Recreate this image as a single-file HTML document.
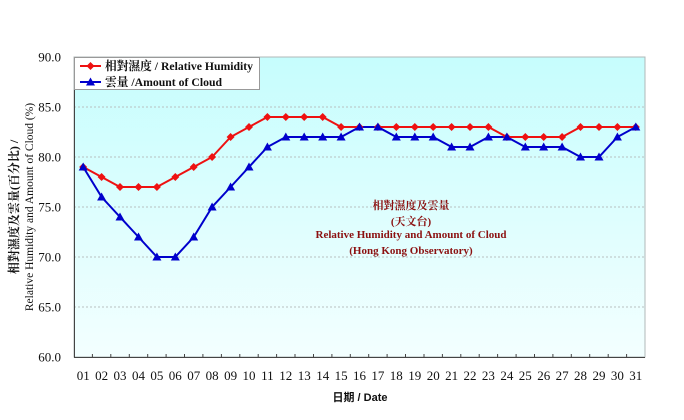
<!DOCTYPE html>
<html><head><meta charset="utf-8"><style>
html,body{margin:0;padding:0;background:#fff;}
svg{display:block;}
</style></head><body>
<svg width="684" height="420" viewBox="0 0 684 420" xmlns="http://www.w3.org/2000/svg">
<defs>
<linearGradient id="bg" x1="0" y1="0" x2="0" y2="1">
<stop offset="0" stop-color="#c6fdfd"/>
<stop offset="1" stop-color="#f3ffff"/>
</linearGradient>
<path id="dm" d="M0,-4 L4,0 L0,4 L-4,0Z" fill="#ee1111"/>
<path id="tr" d="M0,-4.5 L4.5,3.5 L-4.5,3.5Z" fill="#0000cc"/>
</defs>
<rect x="74" y="57" width="571" height="300" fill="url(#bg)" stroke="#b0b8b8" stroke-width="1"/>
<g stroke="#b8c0c0" stroke-width="1" stroke-dasharray="2,2">
<line x1="74" y1="107" x2="645" y2="107"/>
<line x1="74" y1="157" x2="645" y2="157"/>
<line x1="74" y1="207" x2="645" y2="207"/>
<line x1="74" y1="257" x2="645" y2="257"/>
<line x1="74" y1="307" x2="645" y2="307"/>
</g>
<line x1="74.5" y1="57" x2="74.5" y2="357" stroke="#444" stroke-width="1"/>
<line x1="74" y1="357.5" x2="645" y2="357.5" stroke="#444" stroke-width="1"/>
<g stroke="#444" stroke-width="1">
<line x1="92.4" y1="354" x2="92.4" y2="357"/><line x1="110.8" y1="354" x2="110.8" y2="357"/><line x1="129.3" y1="354" x2="129.3" y2="357"/><line x1="147.7" y1="354" x2="147.7" y2="357"/><line x1="166.1" y1="354" x2="166.1" y2="357"/><line x1="184.5" y1="354" x2="184.5" y2="357"/><line x1="202.9" y1="354" x2="202.9" y2="357"/><line x1="221.4" y1="354" x2="221.4" y2="357"/><line x1="239.8" y1="354" x2="239.8" y2="357"/><line x1="258.2" y1="354" x2="258.2" y2="357"/><line x1="276.6" y1="354" x2="276.6" y2="357"/><line x1="295.0" y1="354" x2="295.0" y2="357"/><line x1="313.5" y1="354" x2="313.5" y2="357"/><line x1="331.9" y1="354" x2="331.9" y2="357"/><line x1="350.3" y1="354" x2="350.3" y2="357"/><line x1="368.7" y1="354" x2="368.7" y2="357"/><line x1="387.1" y1="354" x2="387.1" y2="357"/><line x1="405.5" y1="354" x2="405.5" y2="357"/><line x1="424.0" y1="354" x2="424.0" y2="357"/><line x1="442.4" y1="354" x2="442.4" y2="357"/><line x1="460.8" y1="354" x2="460.8" y2="357"/><line x1="479.2" y1="354" x2="479.2" y2="357"/><line x1="497.6" y1="354" x2="497.6" y2="357"/><line x1="516.1" y1="354" x2="516.1" y2="357"/><line x1="534.5" y1="354" x2="534.5" y2="357"/><line x1="552.9" y1="354" x2="552.9" y2="357"/><line x1="571.3" y1="354" x2="571.3" y2="357"/><line x1="589.7" y1="354" x2="589.7" y2="357"/><line x1="608.2" y1="354" x2="608.2" y2="357"/><line x1="626.6" y1="354" x2="626.6" y2="357"/>
</g>
<g font-family="'Liberation Serif',serif" font-size="13" fill="#111" text-anchor="end">
<text x="61" y="61.5">90.0</text>
<text x="61" y="111.5">85.0</text>
<text x="61" y="161.5">80.0</text>
<text x="61" y="211.5">75.0</text>
<text x="61" y="261.5">70.0</text>
<text x="61" y="311.5">65.0</text>
<text x="61" y="361.5">60.0</text>
</g>
<g font-family="'Liberation Serif',serif" font-size="13" fill="#111" text-anchor="middle">
<text x="83.2" y="380">01</text><text x="101.6" y="380">02</text><text x="120.0" y="380">03</text><text x="138.5" y="380">04</text><text x="156.9" y="380">05</text><text x="175.3" y="380">06</text><text x="193.7" y="380">07</text><text x="212.1" y="380">08</text><text x="230.6" y="380">09</text><text x="249.0" y="380">10</text><text x="267.4" y="380">11</text><text x="285.8" y="380">12</text><text x="304.2" y="380">13</text><text x="322.7" y="380">14</text><text x="341.1" y="380">15</text><text x="359.5" y="380">16</text><text x="377.9" y="380">17</text><text x="396.3" y="380">18</text><text x="414.8" y="380">19</text><text x="433.2" y="380">20</text><text x="451.6" y="380">21</text><text x="470.0" y="380">22</text><text x="488.4" y="380">23</text><text x="506.9" y="380">24</text><text x="525.3" y="380">25</text><text x="543.7" y="380">26</text><text x="562.1" y="380">27</text><text x="580.5" y="380">28</text><text x="599.0" y="380">29</text><text x="617.4" y="380">30</text><text x="635.8" y="380">31</text>
</g>
<text x="360" y="401" text-anchor="middle" font-family="'Liberation Sans','Noto Sans CJK TC',sans-serif" font-size="11" font-weight="bold" fill="#111">日期 / Date</text>
<g font-family="'Liberation Serif','Noto Serif CJK SC','Noto Sans CJK TC',serif" fill="#111" text-anchor="middle">
<text transform="translate(18,207) rotate(-90)" font-size="12" font-weight="bold">相對濕度及雲量(百分比) /</text>
<text transform="translate(33,207) rotate(-90)" font-size="11.5">Relative Humidity and Amount of Cloud (%)</text>
</g>
<g font-family="'Liberation Serif','Noto Serif CJK SC','Noto Sans CJK TC',serif" font-size="11" font-weight="bold" fill="#8b1010" text-anchor="middle">
<text x="411" y="209">相對濕度及雲量</text>
<text x="411" y="225">(天文台)</text>
<text x="411" y="238">Relative Humidity and Amount of Cloud</text>
<text x="411" y="254">(Hong Kong Observatory)</text>
</g>
<polyline fill="none" stroke="#ee1111" stroke-width="2" points="83.2,167 101.6,177 120.0,187 138.5,187 156.9,187 175.3,177 193.7,167 212.1,157 230.6,137 249.0,127 267.4,117 285.8,117 304.2,117 322.7,117 341.1,127 359.5,127 377.9,127 396.3,127 414.8,127 433.2,127 451.6,127 470.0,127 488.4,127 506.9,137 525.3,137 543.7,137 562.1,137 580.5,127 599.0,127 617.4,127 635.8,127"/>
<polyline fill="none" stroke="#0000cc" stroke-width="2" points="83.2,167 101.6,197 120.0,217 138.5,237 156.9,257 175.3,257 193.7,237 212.1,207 230.6,187 249.0,167 267.4,147 285.8,137 304.2,137 322.7,137 341.1,137 359.5,127 377.9,127 396.3,137 414.8,137 433.2,137 451.6,147 470.0,147 488.4,137 506.9,137 525.3,147 543.7,147 562.1,147 580.5,157 599.0,157 617.4,137 635.8,127"/>
<g>
<use href="#dm" x="83.2" y="167"/><use href="#dm" x="101.6" y="177"/><use href="#dm" x="120.0" y="187"/><use href="#dm" x="138.5" y="187"/><use href="#dm" x="156.9" y="187"/><use href="#dm" x="175.3" y="177"/><use href="#dm" x="193.7" y="167"/><use href="#dm" x="212.1" y="157"/><use href="#dm" x="230.6" y="137"/><use href="#dm" x="249.0" y="127"/><use href="#dm" x="267.4" y="117"/><use href="#dm" x="285.8" y="117"/><use href="#dm" x="304.2" y="117"/><use href="#dm" x="322.7" y="117"/><use href="#dm" x="341.1" y="127"/><use href="#dm" x="359.5" y="127"/><use href="#dm" x="377.9" y="127"/><use href="#dm" x="396.3" y="127"/><use href="#dm" x="414.8" y="127"/><use href="#dm" x="433.2" y="127"/><use href="#dm" x="451.6" y="127"/><use href="#dm" x="470.0" y="127"/><use href="#dm" x="488.4" y="127"/><use href="#dm" x="506.9" y="137"/><use href="#dm" x="525.3" y="137"/><use href="#dm" x="543.7" y="137"/><use href="#dm" x="562.1" y="137"/><use href="#dm" x="580.5" y="127"/><use href="#dm" x="599.0" y="127"/><use href="#dm" x="617.4" y="127"/><use href="#dm" x="635.8" y="127"/>
</g>
<g>
<use href="#tr" x="83.2" y="167"/><use href="#tr" x="101.6" y="197"/><use href="#tr" x="120.0" y="217"/><use href="#tr" x="138.5" y="237"/><use href="#tr" x="156.9" y="257"/><use href="#tr" x="175.3" y="257"/><use href="#tr" x="193.7" y="237"/><use href="#tr" x="212.1" y="207"/><use href="#tr" x="230.6" y="187"/><use href="#tr" x="249.0" y="167"/><use href="#tr" x="267.4" y="147"/><use href="#tr" x="285.8" y="137"/><use href="#tr" x="304.2" y="137"/><use href="#tr" x="322.7" y="137"/><use href="#tr" x="341.1" y="137"/><use href="#tr" x="359.5" y="127"/><use href="#tr" x="377.9" y="127"/><use href="#tr" x="396.3" y="137"/><use href="#tr" x="414.8" y="137"/><use href="#tr" x="433.2" y="137"/><use href="#tr" x="451.6" y="147"/><use href="#tr" x="470.0" y="147"/><use href="#tr" x="488.4" y="137"/><use href="#tr" x="506.9" y="137"/><use href="#tr" x="525.3" y="147"/><use href="#tr" x="543.7" y="147"/><use href="#tr" x="562.1" y="147"/><use href="#tr" x="580.5" y="157"/><use href="#tr" x="599.0" y="157"/><use href="#tr" x="617.4" y="137"/><use href="#tr" x="635.8" y="127"/>
</g>
<rect x="74.5" y="57.5" width="185" height="32" fill="#fff" stroke="#999" stroke-width="1"/>
<line x1="80" y1="66" x2="101" y2="66" stroke="#ee1111" stroke-width="2"/>
<use href="#dm" x="90.5" y="66"/>
<line x1="80" y1="82" x2="101" y2="82" stroke="#0000cc" stroke-width="2"/>
<use href="#tr" x="90.5" y="82"/>
<g font-family="'Liberation Serif','Noto Serif CJK SC','Noto Sans CJK TC',serif" font-size="12" font-weight="bold" fill="#111">
<text x="105" y="70" textLength="148" lengthAdjust="spacingAndGlyphs">相對濕度 / Relative Humidity</text>
<text x="105" y="86" textLength="117" lengthAdjust="spacingAndGlyphs">雲量 /Amount of Cloud</text>
</g>
</svg>
</body></html>
